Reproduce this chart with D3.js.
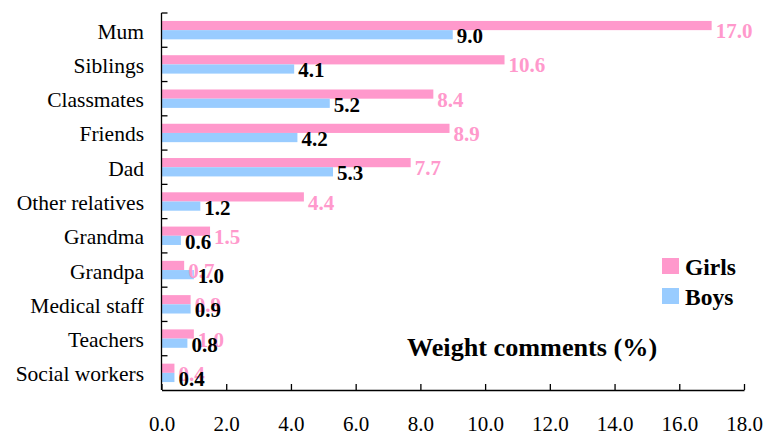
<!DOCTYPE html>
<html>
<head>
<meta charset="utf-8">
<script src="https://cdn.jsdelivr.net/npm/d3@7/dist/d3.min.js"></script>
<style>
  html, body { margin: 0; padding: 0; background: #fff; }
  svg { display: block; }
</style>
</head>
<body>
<svg id="chart" width="764" height="435"></svg>
<script>
const categories = ["Mum", "Siblings", "Classmates", "Friends", "Dad", "Other relatives",
  "Grandma", "Grandpa", "Medical staff", "Teachers", "Social workers"];
const girls = [17.0, 10.6, 8.4, 8.9, 7.7, 4.4, 1.5, 0.7, 0.9, 1.0, 0.4];
const boys  = [9.0, 4.1, 5.2, 4.2, 5.3, 1.2, 0.6, 1.0, 0.9, 0.8, 0.4];
const xTicks = [0, 2, 4, 6, 8, 10, 12, 14, 16, 18];
const seriesNames = ["Girls", "Boys"];
const colors = { Girls: "#FF99CC", Boys: "#99CCFF" };
const axisTitle = "Weight comments (%)";

const FONT = "'Liberation Serif', 'Times New Roman', Times, serif";
const svg = d3.select("#chart").style("font-family", FONT);
const mLeft = 161.5, mRight = 744, mTop = 13, mBottom = 390;

const x = d3.scaleLinear().domain([0, 18]).range([mLeft, mRight]);
const y = d3.scaleBand().domain(categories).range([mTop, mBottom]).paddingInner(0).paddingOuter(0);
const pairFrac = 0.537;
const barH = y.bandwidth() * pairFrac / 2;

// Bars
const g = svg.append("g");
categories.forEach((c, i) => {
  const cy = y(c) + y.bandwidth() / 2;
  g.append("rect").attr("x", x(0)).attr("y", cy - barH)
    .attr("width", x(girls[i]) - x(0)).attr("height", barH)
    .attr("fill", colors.Girls);
  g.append("rect").attr("x", x(0)).attr("y", cy)
    .attr("width", x(boys[i]) - x(0)).attr("height", barH)
    .attr("fill", colors.Boys);
});

// Value labels
categories.forEach((c, i) => {
  const cy = y(c) + y.bandwidth() / 2;
  svg.append("text").attr("x", x(girls[i]) + 4).attr("y", cy + 8)
    .attr("font-size", 21).attr("font-weight", "bold").attr("fill", colors.Girls)
    .style("font-family", FONT)
    .text(girls[i].toFixed(1));
  svg.append("text").attr("x", x(boys[i]) + 4).attr("y", cy + 13)
    .attr("font-size", 21).attr("font-weight", "bold").attr("fill", "#000")
    .style("font-family", FONT)
    .text(boys[i].toFixed(1));
});

// Y axis (category)
const yAxisG = svg.append("g");
yAxisG.append("line").attr("x1", mLeft).attr("x2", mLeft).attr("y1", mTop).attr("y2", mBottom)
  .attr("stroke", "#000").attr("stroke-width", 1.3);
categories.forEach(c => {
  yAxisG.append("line").attr("x1", mLeft).attr("x2", mLeft + 6).attr("y1", y(c)).attr("y2", y(c))
    .attr("stroke", "#000").attr("stroke-width", 1.3);
});
categories.forEach(c => {
  yAxisG.append("text").attr("x", 144).attr("y", y(c) + y.bandwidth() / 2 + 8.5)
    .attr("text-anchor", "end").attr("font-size", 21.5).attr("fill", "#000")
    .style("font-family", FONT).text(c);
});

// X axis
const xAxis = d3.axisBottom(x).tickValues(xTicks).tickSize(-6).tickPadding(0)
  .tickFormat(d => d.toFixed(1)).tickSizeOuter(0);
const xg = svg.append("g").attr("transform", `translate(0,${mBottom})`).call(xAxis)
  .attr("font-family", null).attr("font-size", null);
xg.select(".domain").attr("stroke", "#000").attr("stroke-width", 1.3);
xg.selectAll(".tick line").attr("stroke", "#000").attr("stroke-width", 1.3);
xg.selectAll(".tick text").attr("font-size", 21).style("font-family", FONT)
  .attr("fill", "#000").attr("dy", null).attr("y", 41);

// Axis title
svg.append("text").attr("x", 407).attr("y", 356).attr("font-size", 26.2).attr("font-weight", "bold")
  .style("font-family", FONT).attr("fill", "#000").text(axisTitle);

// Legend
const legend = svg.append("g");
seriesNames.forEach((s, i) => {
  legend.append("rect").attr("x", 662).attr("y", 258 + i * 30).attr("width", 17).attr("height", 16)
    .attr("fill", colors[s]);
  legend.append("text").attr("x", 685).attr("y", 275 + i * 30).attr("font-size", 23.5)
    .attr("font-weight", "bold").style("font-family", FONT).attr("fill", "#000").text(s);
});
</script>
</body>
</html>
